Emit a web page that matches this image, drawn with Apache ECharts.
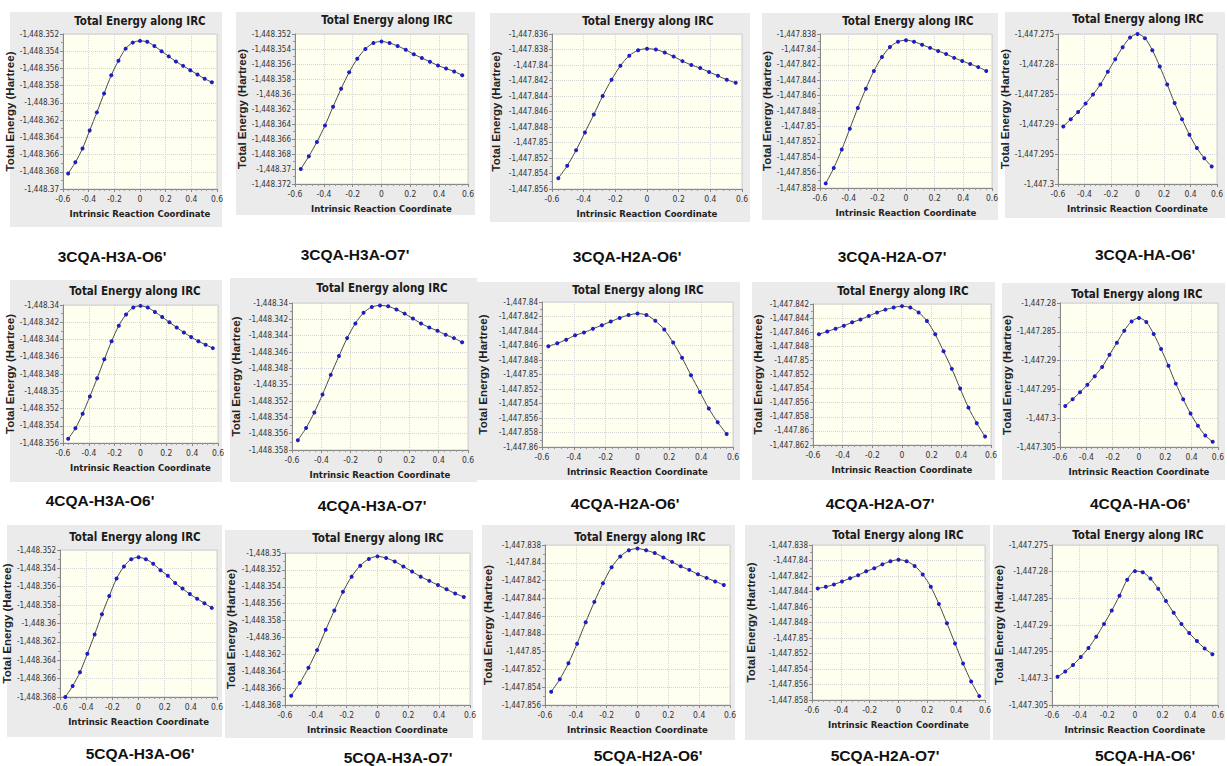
<!DOCTYPE html>
<html>
<head>
<meta charset="utf-8">
<script src="https://cdn.jsdelivr.net/npm/echarts@6/dist/echarts.min.js"></script>
<style>
  html, body { margin: 0; padding: 0; background: #fff; }
  #main { width: 1227px; height: 766px; }
</style>
</head>
<body>
<div id="main"></div>
<script>
// reaction coordinate of the 21 IRC points
var irc = [-0.56, -0.504, -0.448, -0.392, -0.336, -0.28, -0.224, -0.168, -0.112, -0.056, 0,
           0.056, 0.112, 0.168, 0.224, 0.28, 0.336, 0.392, 0.448, 0.504, 0.56];

// total energy (Hartree) for each path
var e3H3A_O6 = [-1448.3682, -1448.3669, -1448.3653, -1448.3632, -1448.3611, -1448.3589, -1448.3568, -1448.3551, -1448.3537, -1448.3530, -1448.3528,
                -1448.3529, -1448.3534, -1448.3540, -1448.3546, -1448.3552, -1448.3557, -1448.3562, -1448.3567, -1448.3572, -1448.3576];
var e3H3A_O7 = [-1448.3700, -1448.3683, -1448.3664, -1448.3642, -1448.3617, -1448.3593, -1448.3571, -1448.3553, -1448.3540, -1448.3532, -1448.3530,
                -1448.3532, -1448.3536, -1448.3541, -1448.3547, -1448.3552, -1448.3557, -1448.3562, -1448.3566, -1448.3570, -1448.3575];
var e3H2A_O6 = [-1447.8546, -1447.8530, -1447.8510, -1447.8487, -1447.8464, -1447.8440, -1447.8419, -1447.8401, -1447.8388, -1447.8381, -1447.8379,
                -1447.8380, -1447.8384, -1447.8389, -1447.8395, -1447.8400, -1447.8404, -1447.8409, -1447.8414, -1447.8419, -1447.8423];
var e3H2A_O7 = [-1447.8574, -1447.8554, -1447.8530, -1447.8503, -1447.8476, -1447.8451, -1447.8428, -1447.8410, -1447.8397, -1447.8390, -1447.8388,
                -1447.8390, -1447.8394, -1447.8398, -1447.8402, -1447.8406, -1447.8411, -1447.8415, -1447.8419, -1447.8423, -1447.8428];
var e3HA_O6 = [-1447.2904, -1447.2892, -1447.2880, -1447.2866, -1447.2851, -1447.2834, -1447.2813, -1447.2792, -1447.2772, -1447.2756, -1447.2750,
               -1447.2757, -1447.2777, -1447.2804, -1447.2834, -1447.2865, -1447.2892, -1447.2918, -1447.2940, -1447.2957, -1447.2971];

var e4H3A_O6 = [-1448.3555, -1448.3543, -1448.3526, -1448.3506, -1448.3485, -1448.3463, -1448.3442, -1448.3424, -1448.3411, -1448.3403, -1448.3401,
                -1448.3403, -1448.3408, -1448.3414, -1448.3420, -1448.3426, -1448.3432, -1448.3437, -1448.3442, -1448.3446, -1448.3450];
var e4H3A_O7 = [-1448.3568, -1448.3553, -1448.3534, -1448.3512, -1448.3488, -1448.3465, -1448.3443, -1448.3425, -1448.3412, -1448.3405, -1448.3403,
                -1448.3404, -1448.3408, -1448.3413, -1448.3419, -1448.3425, -1448.3430, -1448.3434, -1448.3439, -1448.3443, -1448.3448];
var e4H2A_O6 = [-1447.8461, -1447.8457, -1447.8452, -1447.8446, -1447.8442, -1447.8437, -1447.8432, -1447.8427, -1447.8422, -1447.8418, -1447.8416,
                -1447.8418, -1447.8426, -1447.8438, -1447.8456, -1447.8477, -1447.8501, -1447.8524, -1447.8547, -1447.8566, -1447.8582];
var e4H2A_O7 = [-1447.8463, -1447.8459, -1447.8455, -1447.8451, -1447.8446, -1447.8442, -1447.8437, -1447.8432, -1447.8428, -1447.8425, -1447.8423,
                -1447.8425, -1447.8432, -1447.8444, -1447.8463, -1447.8487, -1447.8512, -1447.8540, -1447.8567, -1447.8589, -1447.8608];
var e4HA_O6 = [-1447.2979, -1447.2967, -1447.2955, -1447.2942, -1447.2927, -1447.2911, -1447.2890, -1447.2869, -1447.2848, -1447.2832, -1447.2826,
               -1447.2833, -1447.2854, -1447.2880, -1447.2909, -1447.2940, -1447.2967, -1447.2992, -1447.3013, -1447.3030, -1447.3041];

var e5H3A_O6 = [-1448.3680, -1448.3668, -1448.3653, -1448.3633, -1448.3612, -1448.3590, -1448.3570, -1448.3551, -1448.3538, -1448.3530, -1448.3528,
                -1448.3530, -1448.3535, -1448.3542, -1448.3548, -1448.3556, -1448.3562, -1448.3568, -1448.3573, -1448.3578, -1448.3583];
var e5H3A_O7 = [-1448.3669, -1448.3654, -1448.3636, -1448.3615, -1448.3591, -1448.3568, -1448.3546, -1448.3528, -1448.3515, -1448.3507, -1448.3504,
                -1448.3506, -1448.3510, -1448.3516, -1448.3522, -1448.3528, -1448.3533, -1448.3538, -1448.3543, -1448.3548, -1448.3552];
var e5H2A_O6 = [-1447.8545, -1447.8531, -1447.8513, -1447.8491, -1447.8467, -1447.8444, -1447.8423, -1447.8405, -1447.8393, -1447.8386, -1447.8384,
                -1447.8386, -1447.8389, -1447.8394, -1447.8399, -1447.8404, -1447.8408, -1447.8413, -1447.8417, -1447.8421, -1447.8425];
var e5H2A_O7 = [-1447.8436, -1447.8434, -1447.8431, -1447.8427, -1447.8423, -1447.8419, -1447.8414, -1447.8410, -1447.8405, -1447.8401, -1447.8399,
                -1447.8401, -1447.8407, -1447.8418, -1447.8434, -1447.8456, -1447.8481, -1447.8507, -1447.8533, -1447.8556, -1447.8575];
var e5HA_O6 = [-1447.2997, -1447.2987, -1447.2975, -1447.2960, -1447.2943, -1447.2922, -1447.2898, -1447.2873, -1447.2845, -1447.2815, -1447.2799,
               -1447.2801, -1447.2813, -1447.2832, -1447.2855, -1447.2877, -1447.2898, -1447.2915, -1447.2930, -1447.2944, -1447.2955];

// names under each panel, in reading order
var names = ["3CQA-H3A-O6'", "3CQA-H3A-O7'", "3CQA-H2A-O6'", "3CQA-H2A-O7'", "3CQA-HA-O6'",
             "4CQA-H3A-O6'", "4CQA-H3A-O7'", "4CQA-H2A-O6'", "4CQA-H2A-O7'", "4CQA-HA-O6'",
             "5CQA-H3A-O6'", "5CQA-H3A-O7'", "5CQA-H2A-O6'", "5CQA-H2A-O7'", "5CQA-HA-O6'"];
var energies = [e3H3A_O6, e3H3A_O7, e3H2A_O6, e3H2A_O7, e3HA_O6,
                e4H3A_O6, e4H3A_O7, e4H2A_O6, e4H2A_O7, e4HA_O6,
                e5H3A_O6, e5H3A_O7, e5H2A_O6, e5H2A_O7, e5HA_O6];
// y tick range of each panel: [min, max, step]
var yTicks = [[-1448.370, -1448.352, 0.002], [-1448.372, -1448.352, 0.002], [-1447.856, -1447.836, 0.002], [-1447.858, -1447.838, 0.002], [-1447.300, -1447.275, 0.005],
              [-1448.356, -1448.340, 0.002], [-1448.358, -1448.340, 0.002], [-1447.860, -1447.840, 0.002], [-1447.862, -1447.842, 0.002], [-1447.305, -1447.280, 0.005],
              [-1448.368, -1448.352, 0.002], [-1448.368, -1448.350, 0.002], [-1447.856, -1447.838, 0.002], [-1447.858, -1447.838, 0.002], [-1447.305, -1447.275, 0.005]];

// layout: gray box [x, y, w, h], plot [left, top, w, h], title centre, caption centre
var boxes = [[10,12,212,215], [236,12,239,203], [490,13,260,209], [762,13,236,207], [1005,12,220,206],
             [10,280,212,202], [230,278,247,204], [477,282,263,198], [752,282,243,198], [1002,283,223,197],
             [7,525,215,212], [225,530,248,208], [482,525,253,215], [745,525,245,215], [993,525,232,215]];
var plots = [[63,34,154,155], [295,34,173,150], [552,34,190,155], [820,34,172,154], [1058,34,159,150],
             [63,305,155,138], [292,303,176,147], [542,302,191,145], [813,304,178,141], [1060,303,160,144],
             [57,550,160,147], [285,553,185,152], [545,545,185,160], [812,545,173,155], [1052,545,166,160]];
var titlePos = [[140,21], [387,20], [648,21], [908,21], [1138,19],
                [135,291], [382,288], [638,290], [903,291], [1137,294],
                [135,537], [378,538], [640,537], [898,535], [1138,535]];
var captionPos = [[112,256], [355,254], [627,256], [892,256], [1145,254],
                  [100,500], [372,505], [625,503], [880,503], [1140,503],
                  [140,753], [398,757], [648,755], [885,755], [1145,755]];

var narrow = "'Liberation Sans Narrow', 'DejaVu Sans Condensed', 'Liberation Sans', sans-serif";

function fmtEnergy(v) {
    var t = Math.abs(v).toFixed(3).replace(/\.?0+$/, '');
    return '-' + t.replace(/^(\d)(\d{3})/, '$1,$2');
}

var chart = echarts.init(document.getElementById('main'), null, {renderer: 'svg'});

var grids = [], xAxes = [], yAxes = [], series = [], graphics = [];
for (var i = 0; i < names.length; i++) {
    var b = boxes[i], p = plots[i];
    graphics.push({type: 'rect', z: -10, shape: {x: b[0], y: b[1], width: b[2], height: b[3]},
                   style: {fill: '#ebebeb'}});
    graphics.push({type: 'text', x: titlePos[i][0], y: titlePos[i][1],
                   style: {text: 'Total Energy along IRC', fill: '#1a1a1a', align: 'center', verticalAlign: 'middle',
                           font: 'bold 11.5px ' + narrow}});
    graphics.push({type: 'text', x: captionPos[i][0], y: captionPos[i][1],
                   style: {text: names[i], fill: '#111', align: 'center', verticalAlign: 'middle',
                           font: 'bold 15.5px "Liberation Sans", Arial, sans-serif'}});

    grids.push({left: p[0], top: p[1], width: p[2], height: p[3], show: true,
                backgroundColor: '#fffff0', borderColor: '#d0d0d0', borderWidth: 1});
    xAxes.push({
        type: 'value', gridIndex: i, min: -0.6, max: 0.6, interval: 0.2,
        name: 'Intrinsic Reaction Coordinate', nameLocation: 'middle', nameGap: 19,
        nameTextStyle: {fontFamily: narrow, fontWeight: 'bold', fontSize: 9.5, color: '#222'},
        axisLine: {show: true, onZero: false, lineStyle: {color: '#888'}},
        axisTick: {show: true, length: 3, lineStyle: {color: '#888'}},
        minorTick: {show: true, splitNumber: 5, length: 2, lineStyle: {color: '#999'}},
        axisLabel: {fontFamily: narrow, fontSize: 8.5, color: '#333', margin: 5},
        splitLine: {show: true, lineStyle: {color: '#d4d4d4', type: 'dotted'}}
    });
    var yt = yTicks[i];
    yAxes.push({
        type: 'value', gridIndex: i, min: yt[0], max: yt[1], interval: yt[2],
        name: 'Total Energy (Hartree)', nameLocation: 'middle', nameRotate: 90,
        nameGap: p[0] - b[0] - 12,
        nameTextStyle: {fontFamily: '"Liberation Sans", Arial, sans-serif', fontWeight: 'bold', fontSize: 11.5, color: '#222'},
        axisLine: {show: true, onZero: false, lineStyle: {color: '#888'}},
        axisTick: {show: true, length: 3, lineStyle: {color: '#888'}},
        minorTick: {show: true, splitNumber: 2, length: 2, lineStyle: {color: '#999'}},
        axisLabel: {fontFamily: narrow, fontSize: 8, color: '#333', margin: 4, formatter: fmtEnergy},
        splitLine: {show: true, lineStyle: {color: '#d4d4d4', type: 'dotted'}}
    });
    var pts = [];
    for (var k = 0; k < irc.length; k++) pts.push([irc[k], energies[i][k]]);
    series.push({
        type: 'line', xAxisIndex: i, yAxisIndex: i, data: pts, smooth: 0.3,
        symbol: 'circle', symbolSize: 4,
        lineStyle: {color: '#4a4a4a', width: 1},
        itemStyle: {color: '#1c1cc8'},
        animation: false
    });
}

chart.setOption({
    animation: false,
    grid: grids,
    xAxis: xAxes,
    yAxis: yAxes,
    series: series,
    graphic: graphics
});
</script>
</body>
</html>
